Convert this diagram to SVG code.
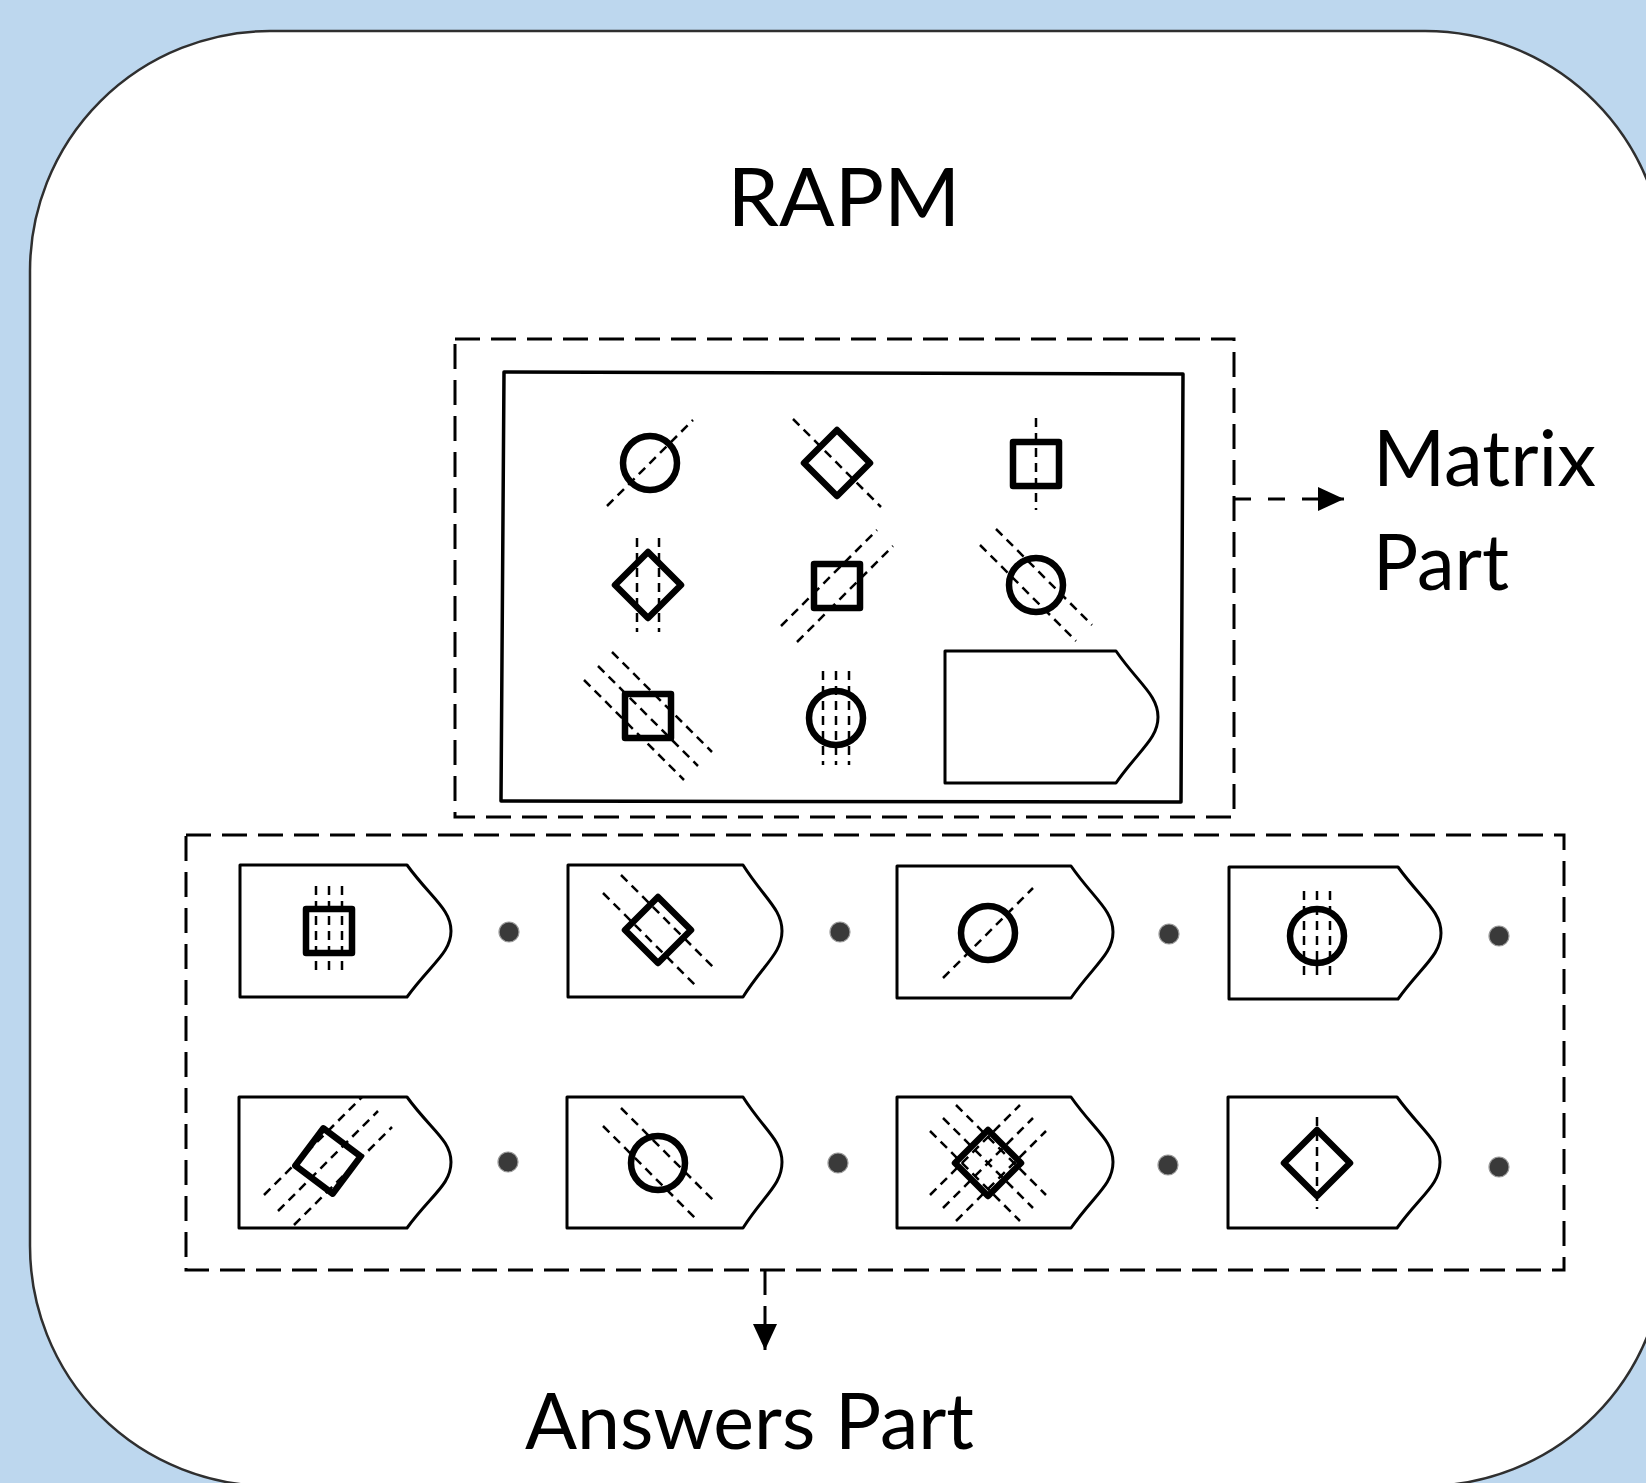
<svg xmlns="http://www.w3.org/2000/svg" width="1646" height="1483" viewBox="0 0 1646 1483">
<style>
.panel{fill:#fff;stroke:#2f2f2f;stroke-width:2.5}
.dbox{fill:none;stroke:#000;stroke-width:3;stroke-dasharray:25 11}
.frame{fill:#fff;stroke:#000;stroke-width:3.5;stroke-linejoin:round}
.card{fill:#fff;stroke:#000;stroke-width:3;stroke-linejoin:round}
.fig{fill:none;stroke:#000;stroke-width:6.5;stroke-linejoin:round}
.hl{fill:none;stroke:#000;stroke-width:2.5;stroke-dasharray:9 6}
.dot{fill:#3a3a3a;stroke:#999;stroke-width:1.2}
.conn{fill:none;stroke:#000;stroke-width:3}
.lbl{font-family:Lato,"Open Sans",sans-serif;fill:#000}
</style>
<defs>
<circle id="circ" r="27"/>
<rect id="sq" x="-23" y="-22" width="46" height="44"/>
<path id="dia" d="M0,-33 L33,0 L0,33 L-33,0 Z"/>
<marker id="ah" markerWidth="26" markerHeight="24" refX="26" refY="12" orient="auto" markerUnits="userSpaceOnUse">
<path d="M0,0 L26,12 L0,24 Z" fill="#000"/>
</marker>
</defs>
<rect width="1646" height="1483" fill="#BDD7EE"/>
<rect class="panel" x="30" y="31" width="1635" height="1455" rx="240" ry="240"/>
<text class="lbl" x="844" y="226" font-size="82" text-anchor="middle" textLength="233" lengthAdjust="spacingAndGlyphs">RAPM</text>

<g id="matrix-part">
<rect class="dbox" x="455" y="339" width="779" height="478"/>
<polygon class="frame" points="504,372 1183,374 1181,802 501,801"/>
<g id="m1" transform="translate(650,463)">
<line class="hl" x1="-43" y1="43" x2="43" y2="-43"/>
<use href="#circ" class="fig"/>
</g>
<g id="m2" transform="translate(837,463)">
<line class="hl" x1="-44" y1="-44" x2="44" y2="44"/>
<use href="#dia" class="fig"/>
</g>
<g id="m3" transform="translate(1036,464)">
<line class="hl" x1="0" y1="-46" x2="0" y2="46"/>
<use href="#sq" class="fig"/>
</g>
<g id="m4" transform="translate(648,585)">
<line class="hl" x1="-11" y1="-47" x2="-11" y2="47"/>
<line class="hl" x1="11" y1="-47" x2="11" y2="47"/>
<use href="#dia" class="fig"/>
</g>
<g id="m5" transform="translate(837,586)">
<line class="hl" x1="-56" y1="40" x2="40" y2="-56"/>
<line class="hl" x1="-40" y1="56" x2="56" y2="-40"/>
<use href="#sq" class="fig"/>
</g>
<g id="m6" transform="translate(1036,585)">
<line class="hl" x1="-56" y1="-40" x2="40" y2="56"/>
<line class="hl" x1="-40" y1="-56" x2="56" y2="40"/>
<use href="#circ" class="fig"/>
</g>
<g id="m7" transform="translate(648,716)">
<line class="hl" x1="-64" y1="-36" x2="36" y2="64"/>
<line class="hl" x1="-50" y1="-50" x2="50" y2="50"/>
<line class="hl" x1="-36" y1="-64" x2="64" y2="36"/>
<use href="#sq" class="fig"/>
</g>
<g id="m8" transform="translate(836,718)">
<line class="hl" x1="-13" y1="-47" x2="-13" y2="47"/>
<line class="hl" x1="0" y1="-47" x2="0" y2="47"/>
<line class="hl" x1="13" y1="-47" x2="13" y2="47"/>
<use href="#circ" class="fig"/>
</g>
<path id="m9" class="card" d="M945,651 H1116 C1139,684 1158,695 1158,717 C1158,739 1139,750 1116,783 H945 Z"/>
</g>

<g id="answers-part">
<rect class="dbox" x="186" y="835" width="1378" height="435"/>
<g id="a1">
<path class="card" d="M240,865 H407 C431,898 451,909 451,931 C451,953 431,964 407,997 H240 Z"/>
<g transform="translate(329,931)">
<line class="hl" x1="-13" y1="-45" x2="-13" y2="45"/>
<line class="hl" x1="0" y1="-45" x2="0" y2="45"/>
<line class="hl" x1="13" y1="-45" x2="13" y2="45"/>
<use href="#sq" class="fig"/>
</g>
<circle class="dot" cx="509" cy="932" r="10"/>
</g>
<g id="a2">
<path class="card" d="M568,865 H743 C764,898 782,909 782,931 C782,953 764,964 743,997 H568 Z"/>
<g transform="translate(658,930)">
<line class="hl" x1="-37" y1="-55" x2="55" y2="37"/>
<line class="hl" x1="-55" y1="-37" x2="37" y2="55"/>
<use href="#dia" class="fig"/>
</g>
<circle class="dot" cx="840" cy="932" r="10"/>
</g>
<g id="a3">
<path class="card" d="M897,866 H1071 C1094,899 1113,910 1113,932 C1113,954 1094,965 1071,998 H897 Z"/>
<g transform="translate(988,933)">
<line class="hl" x1="-45" y1="45" x2="45" y2="-45"/>
<use href="#circ" class="fig"/>
</g>
<circle class="dot" cx="1169" cy="934" r="10"/>
</g>
<g id="a4">
<path class="card" d="M1229,867 H1398 C1422,900 1441,911 1441,933 C1441,955 1422,966 1398,999 H1229 Z"/>
<g transform="translate(1317,936)">
<line class="hl" x1="-13" y1="-45" x2="-13" y2="45"/>
<line class="hl" x1="0" y1="-45" x2="0" y2="45"/>
<line class="hl" x1="13" y1="-45" x2="13" y2="45"/>
<use href="#circ" class="fig"/>
</g>
<circle class="dot" cx="1499" cy="936" r="10"/>
</g>
<g id="a5">
<path class="card" d="M239,1097 H407 C431,1130 451,1140 451,1162 C451,1185 431,1195 407,1228 H239 Z"/>
<g transform="translate(328,1161)">
<line class="hl" x1="-64" y1="34" x2="34" y2="-64"/>
<line class="hl" x1="-50" y1="50" x2="50" y2="-50"/>
<line class="hl" x1="-34" y1="64" x2="64" y2="-34"/>
<use href="#dia" class="fig" transform="rotate(-8)"/>
</g>
<circle class="dot" cx="508" cy="1162" r="10"/>
</g>
<g id="a6">
<path class="card" d="M567,1097 H743 C764,1130 782,1140 782,1162 C782,1185 764,1195 743,1228 H567 Z"/>
<g transform="translate(658,1163)">
<line class="hl" x1="-37" y1="-55" x2="55" y2="37"/>
<line class="hl" x1="-55" y1="-37" x2="37" y2="55"/>
<use href="#circ" class="fig"/>
</g>
<circle class="dot" cx="838" cy="1163" r="10"/>
</g>
<g id="a7">
<path class="card" d="M897,1097 H1071 C1094,1130 1113,1140 1113,1162 C1113,1185 1094,1195 1071,1228 H897 Z"/>
<g transform="translate(988,1163)">
<line class="hl" x1="-58" y1="-32" x2="32" y2="58"/>
<line class="hl" x1="-45" y1="-45" x2="45" y2="45"/>
<line class="hl" x1="-32" y1="-58" x2="58" y2="32"/>
<line class="hl" x1="-58" y1="32" x2="32" y2="-58"/>
<line class="hl" x1="-45" y1="45" x2="45" y2="-45"/>
<line class="hl" x1="-32" y1="58" x2="58" y2="-32"/>
<use href="#dia" class="fig"/>
</g>
<circle class="dot" cx="1168" cy="1165" r="10"/>
</g>
<g id="a8">
<path class="card" d="M1228,1097 H1397 C1421,1130 1440,1140 1440,1162 C1440,1185 1421,1195 1397,1228 H1228 Z"/>
<g transform="translate(1317,1163)">
<line class="hl" x1="0" y1="-46" x2="0" y2="46"/>
<use href="#dia" class="fig"/>
</g>
<circle class="dot" cx="1499" cy="1167" r="10"/>
</g>
</g>

<g id="connectors">
<line class="conn" x1="1234" y1="499" x2="1344" y2="499" stroke-dasharray="17 17" marker-end="url(#ah)"/>
<line class="conn" x1="765" y1="1270" x2="765" y2="1350" stroke-dasharray="25 11" marker-end="url(#ah)"/>
</g>

<g id="labels">
<text class="lbl" x="1373" y="486" font-size="78" textLength="223" lengthAdjust="spacingAndGlyphs">Matrix</text>
<text class="lbl" x="1373" y="590" font-size="78" textLength="136" lengthAdjust="spacingAndGlyphs">Part</text>
<text class="lbl" x="525" y="1449" font-size="77" textLength="449" lengthAdjust="spacingAndGlyphs">Answers Part</text>
</g>
</svg>
